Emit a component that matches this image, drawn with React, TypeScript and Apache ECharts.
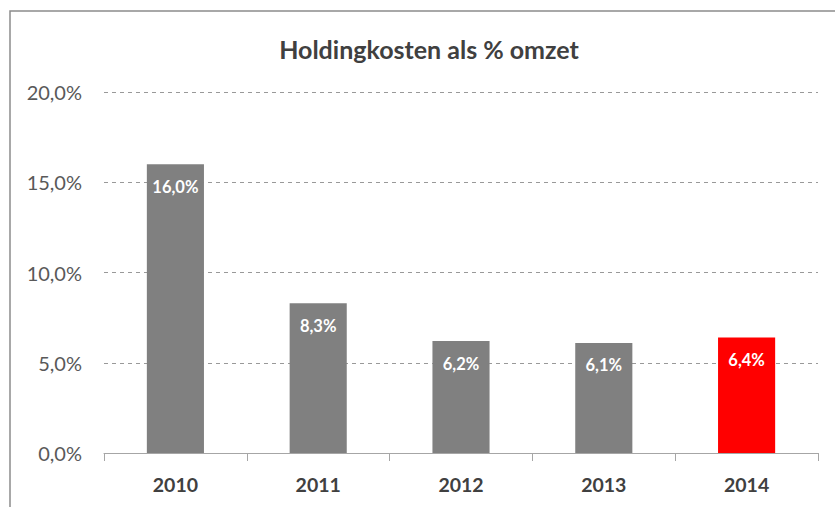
import React, { useEffect, useRef } from "react";
import * as echarts from "echarts";

const categories = ["2010", "2011", "2012", "2013", "2014"];
const values = [16.0, 8.3, 6.2, 6.1, 6.4];
const barColors = ["#808080", "#808080", "#808080", "#808080", "#ff0000"];
const titleText = "Holdingkosten als % omzet";

const fmt = (v: number) => v.toFixed(1).replace(".", ",") + "%";

export default function App() {
  const ref = useRef<HTMLDivElement>(null);
  useEffect(() => {
    if (!ref.current) return;
    const chart = echarts.init(ref.current, null, { renderer: "svg" });
    const font = "Lato, 'Open Sans', sans-serif";
    chart.setOption({
      animation: false,
      backgroundColor: "#ffffff",
      title: {
        text: titleText,
        left: 424,
        textAlign: "center",
        top: 31,
        textStyle: { fontFamily: font, fontSize: 25, fontWeight: "bold", color: "#404040" },
      },
      graphic: [
        {
          type: "rect",
          shape: { x: 10, y: 11, width: 900, height: 600 },
          style: { fill: "none", stroke: "#8c8c8c", lineWidth: 1.5 },
          silent: true,
        },
      ],
      grid: { left: 104, right: 17, top: 92, bottom: 54 },
      xAxis: {
        type: "category",
        data: categories,
        axisLine: { lineStyle: { color: "#a6a6a6", width: 1 } },
        axisTick: { show: true, length: 8, lineStyle: { color: "#a6a6a6" } },
        axisLabel: { fontFamily: font, fontSize: 19.5, fontWeight: "bold", color: "#404040", margin: 21 },
      },
      yAxis: {
        type: "value",
        min: 0,
        max: 20,
        interval: 5,
        axisLine: { show: false },
        axisTick: { show: false },
        axisLabel: {
          fontFamily: font,
          fontSize: 20,
          color: "#595959",
          margin: 22,
          formatter: (v: number) => fmt(v),
        },
        splitLine: { lineStyle: { color: "#999999", type: [4, 4], width: 1 } },
      },
      series: [
        {
          type: "bar",
          barCategoryGap: "60%",
          data: values.map((v, i) => ({ value: v, itemStyle: { color: barColors[i] } })),
          label: {
            show: true,
            position: "insideTop",
            distance: 14,
            fontFamily: font,
            fontSize: 16.5,
            fontWeight: "bold",
            color: "#ffffff",
            formatter: (p: any) => fmt(p.value),
          },
        },
      ],
    });
    return () => chart.dispose();
  }, []);
  return <div ref={ref} style={{ position: "fixed", left: 0, top: 0, width: 835, height: 507 }} />;
}
